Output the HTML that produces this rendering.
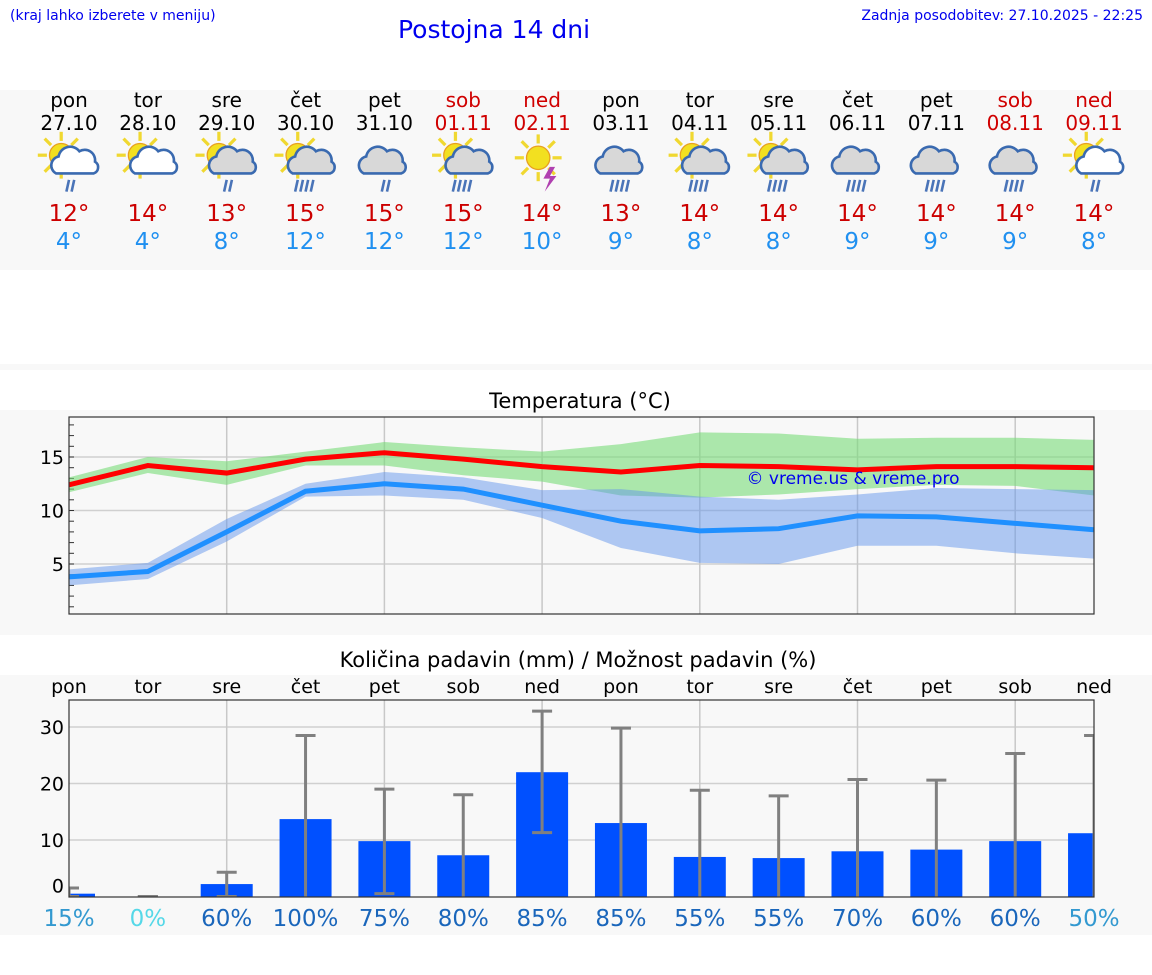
<!DOCTYPE html>
<html><head><meta charset="utf-8">
<style>
body{margin:0;width:1152px;height:975px;background:#fff;font-family:"DejaVu Sans","Liberation Sans",sans-serif;overflow:hidden;position:relative}
.t{position:absolute;white-space:nowrap}
</style></head>
<body>
<div class="t" style="left:10px;top:8px;font-size:14px;color:#0000ee">(kraj lahko izberete v meniju)</div>
<div class="t" style="left:398px;top:15px;font-size:25px;color:#0000ee">Postojna 14 dni</div>
<div class="t" style="right:9px;top:8px;font-size:14px;color:#0000ee">Zadnja posodobitev: 27.10.2025 - 22:25</div>
<svg id="s" width="1152" height="975" style="position:absolute;left:0;top:0"></svg>
<script>
const days=["pon","tor","sre","čet","pet","sob","ned","pon","tor","sre","čet","pet","sob","ned"];
const dates=["27.10","28.10","29.10","30.10","31.10","01.11","02.11","03.11","04.11","05.11","06.11","07.11","08.11","09.11"];
const weekend=[0,0,0,0,0,1,1,0,0,0,0,0,1,1];
const maxT=[12,14,13,15,15,15,14,13,14,14,14,14,14,14];
const minT=[4,4,8,12,12,12,10,9,8,8,9,9,9,8];
const maxLine=[12.4,14.2,13.5,14.8,15.4,14.8,14.1,13.6,14.2,14.1,13.8,14.1,14.1,14.0];
const maxHi=[13.1,15,14.6,15.5,16.4,15.9,15.5,16.2,17.3,17.2,16.7,16.8,16.8,16.6];
const maxLo=[11.7,13.5,12.4,14.2,14.2,13.3,12.7,11.4,11.2,11.5,12,12.4,12.3,11.4];
const minLine=[3.8,4.3,8.0,11.8,12.5,12,10.5,9,8.1,8.3,9.5,9.4,8.8,8.2];
const minHi=[4.5,5.1,9.2,12.5,13.6,13.1,11.9,12,11.3,11,11.5,12.1,12,11.9];
const minLo=[3,3.6,7.1,11.3,11.4,11,9.3,6.5,5.1,5,6.7,6.7,6,5.5];
const precip=[0.5,0,2.2,13.7,9.8,7.3,22,13,7,6.8,8,8.3,9.8,11.2];
const errHi=[1.5,0,4.3,28.5,19,18,32.8,29.8,18.8,17.8,20.7,20.6,25.3,28.5];
const errLo=[0,0,0,0,0.5,0,11.3,0,0,0,0,0,0,0];
const prob=[15,0,60,100,75,80,85,85,55,55,70,60,60,50];
const tTicks=[5,10,15];
const pTicks=[0,10,20,30];
const icons=[[1,1,2,0],[1,1,0,0],[1,2,2,0],[1,2,4,0],[0,2,2,0],[1,2,4,0],[1,0,0,1],[0,2,4,0],[1,2,4,0],[1,2,4,0],[0,2,4,0],[0,2,4,0],[0,2,4,0],[1,1,2,0]];

const S=document.getElementById('s');const NS="http://www.w3.org/2000/svg";
function el(tag,a,p){const e=document.createElementNS(NS,tag);for(const k in a)e.setAttribute(k,a[k]);(p||S).appendChild(e);return e;}
function txt(x,y,s,a,p){const e=el('text',Object.assign({x:x,y:y,'text-anchor':'middle','font-size':20,fill:'#000'},a),p);e.textContent=s;return e;}
const X=i=>69+i*78.85;
const TY=v=>457+(15-v)*10.7;
const PY=v=>896.5-v*5.65;

el('rect',{x:0,y:90,width:1152,height:180,fill:'#f8f8f8'});
el('rect',{x:0,y:364,width:1152,height:6,fill:'#f8f8f8'});
el('rect',{x:0,y:410,width:1152,height:225,fill:'#f8f8f8'});
el('rect',{x:0,y:675,width:1152,height:260,fill:'#f8f8f8'});

for(let i=0;i<14;i++){
  const x=X(i),c=weekend[i]?'#d00000':'#000';
  let t=txt(x,107,days[i],{fill:c});
  
  t=txt(x,130,dates[i],{fill:c});
  
  t=txt(x,221,maxT[i]+'°',{fill:'#cc0000','font-size':23});
  
  t=txt(x,249,minT[i]+'°',{fill:'#2090f0','font-size':23});
  
  const g=el('g',{transform:'translate('+x+',163) scale(1.3)'});
  
  const [sun,cl,dr,st]=icons[i];
  if(sun){const sx=cl?-6:-3,sy=cl?-6:-4;
    for(let k=0;k<8;k++){const a=k*Math.PI/4;el('line',{x1:sx+Math.cos(a)*11,y1:sy+Math.sin(a)*11,x2:sx+Math.cos(a)*18,y2:sy+Math.sin(a)*18,stroke:'#f0d830','stroke-width':2.5},g);}
    el('circle',{cx:sx,cy:sy,r:9,fill:'#f2e020',stroke:'#e8a020','stroke-width':1},g);}
  if(cl){const f=cl==1?'#fff':'#d8d8d8',dx=sun?6:0;
    el('path',{d:`M${dx-16},${8} a7,7 0 0 1 2,-13 a9,9 0 0 1 16,-4 a8,8 0 0 1 12,8 a5,5 0 0 1 -1,9 z`,fill:f,stroke:'#3a6ab0','stroke-width':2},g);}
  for(let k=0;k<dr;k++){const bx=(dr==2?-2:-8)+k*4;el('line',{x1:bx+2,y1:13,x2:bx,y2:22,stroke:'#4a74b8','stroke-width':2},g);}
  if(st){el('path',{d:'M6,3 l-5,9 h5 l-4,10 l9,-12 h-5 l4,-7z',fill:'#b040b0'},g);}
}

const tt=txt(580,408,'Temperatura (°C)',{'font-size':21});
const tg=el('g',{});
el('rect',{x:69,y:417,width:1025,height:197,fill:'#f8f8f8'},tg);
tTicks.forEach(v=>{el('line',{x1:69,x2:1094,y1:TY(v),y2:TY(v),stroke:'#d0d0d0','stroke-width':1.5},tg);
  const l=txt(64,TY(v)+7,String(v),{'text-anchor':'end','font-size':19},tg);});
for(let v=1;v<=18;v++)el('line',{x1:69,x2:74,y1:TY(v),y2:TY(v),stroke:'#333'},tg);
for(let i=2;i<14;i+=2)el('line',{x1:X(i),x2:X(i),y1:417,y2:614,stroke:'#c8c8c8','stroke-width':1.5},tg);
function band(hi,lo,fill,name){let d='';hi.forEach((v,i)=>d+=(i?'L':'M')+X(i)+','+TY(v));for(let i=lo.length-1;i>=0;i--)d+='L'+X(i)+','+TY(lo[i]);
  const p=el('path',{d:d+'Z',fill:fill},tg);}
function line(a,c,name){const p=el('polyline',{points:a.map((v,i)=>X(i)+','+TY(v)).join(' '),fill:'none',stroke:c,'stroke-width':5},tg);}
band(maxHi,maxLo,'rgba(120,220,120,0.6)','max-temp-band');
band(minHi,minLo,'rgba(100,150,235,0.5)','min-temp-band');
line(maxLine,'#ff0000','max-temp-line');
line(minLine,'#2090ff','min-temp-line');
el('rect',{x:69,y:417,width:1025,height:197,fill:'none',stroke:'#333','stroke-width':1.2},tg);
const wm=txt(853,484,'© vreme.us & vreme.pro',{fill:'#0000ee','font-size':17},tg);

const pt=txt(578,667,'Količina padavin (mm) / Možnost padavin (%)',{'font-size':21});
const pg=el('g',{});
for(let i=0;i<14;i++){const l=txt(X(i),693,days[i],{'font-size':19},pg);}
pTicks.forEach(v=>{if(v)el('line',{x1:69,x2:1094,y1:PY(v),y2:PY(v),stroke:'#d0d0d0','stroke-width':1.5},pg);
  const l=txt(64,PY(v)+(v?7:-4),String(v),{'text-anchor':'end','font-size':19},pg);});
for(let i=2;i<14;i+=2)el('line',{x1:X(i),x2:X(i),y1:700,y2:897,stroke:'#c8c8c8','stroke-width':1.5},pg);
const cp=el('clipPath',{id:'pc'},pg);el('rect',{x:69,y:700,width:1025,height:197},cp);
const inner=el('g',{'clip-path':'url(#pc)'},pg);
for(let i=0;i<14;i++){const x=X(i);
  const b=el('rect',{x:x-26,y:PY(precip[i]),width:52,height:PY(0)-PY(precip[i]),fill:'#0050ff'},inner);
  
  const e=el('g',{stroke:'#808080','stroke-width':3},inner);
  
  el('line',{x1:x,x2:x,y1:PY(errHi[i]),y2:PY(errLo[i])},e);
  el('line',{x1:x-10,x2:x+10,y1:PY(errHi[i]),y2:PY(errHi[i])},e);
  if(errLo[i]>0||precip[i]<3)el('line',{x1:x-10,x2:x+10,y1:PY(errLo[i]),y2:PY(errLo[i])},e);
  const c=prob[i]==0?'#55d8e8':(prob[i]<=50||i==0)?'#3399d0':'#1a66bb';
  const l=txt(x,926,prob[i]+'%',{fill:c,'font-size':23},pg);
}
el('rect',{x:69,y:700,width:1025,height:197,fill:'none',stroke:'#333','stroke-width':1.2},pg);
</script>
</body></html>
